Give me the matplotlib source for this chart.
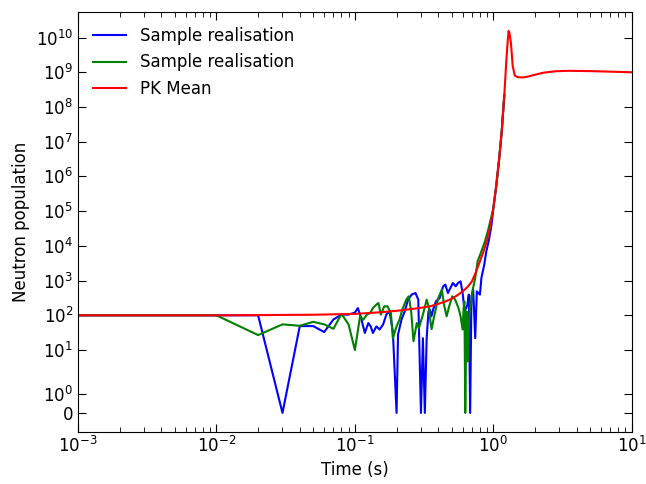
import matplotlib
matplotlib.use("Agg")
import matplotlib.pyplot as plt
from matplotlib.ticker import NullLocator

# PK mean (deterministic point kinetics solution)
t_pk = [0.001, 0.01, 0.05, 0.1, 0.15, 0.2, 0.25, 0.3, 0.35, 0.4, 0.45, 0.5,
        0.55, 0.6, 0.65, 0.7, 0.75, 0.8, 0.85, 0.9, 0.95, 1.0, 1.05, 1.1,
        1.15, 1.2, 1.24, 1.27, 1.29, 1.31, 1.34, 1.38, 1.43, 1.5, 1.65, 1.8,
        2.0, 2.3, 2.8, 3.5, 5.0, 7.0, 10.0]
n_pk = [100, 100, 104, 110, 122, 135, 150, 165, 182, 215, 250, 300,
        380, 490, 650, 950, 1800, 3600, 7000, 1.4e4, 3.5e4, 1.2e5, 5.5e5, 3e6,
        2e7, 2.2e8, 2e9, 8e9, 1.55e10, 1.3e10, 7e9, 1.5e9, 8e8, 7.2e8, 7.1e8, 7.6e8,
        8.5e8, 9.7e8, 1.07e9, 1.1e9, 1.08e9, 1.04e9, 1.0e9]

# sample realisation 1 (blue)
t_s1 = [0.001, 0.01, 0.02, 0.03, 0.04, 0.05, 0.06, 0.07, 0.08, 0.09, 0.1,
        0.105, 0.11, 0.118, 0.125, 0.13, 0.135, 0.143, 0.151, 0.16, 0.169,
        0.178, 0.188, 0.2, 0.205, 0.217, 0.229, 0.242, 0.258, 0.274, 0.287,
        0.3, 0.31, 0.32, 0.33, 0.34, 0.348, 0.357, 0.37, 0.385, 0.41, 0.434,
        0.45, 0.47, 0.49, 0.51, 0.535, 0.555, 0.58, 0.6, 0.62, 0.65, 0.665,
        0.68, 0.695, 0.715, 0.74, 0.76, 0.8, 0.82, 0.86, 0.89, 0.93, 0.97,
        1.0, 1.05, 1.1, 1.15, 1.2]
n_s1 = [100, 100, 100, 0, 49, 49, 33, 76, 105, 105, 120,
        162, 94, 31, 60, 48, 31, 48, 39, 55, 107,
        130, 35, 0, 28, 75, 130, 283, 400, 440, 283,
        0, 22, 0, 22, 130, 146, 94, 162, 253, 315, 685,
        767, 440, 620, 850, 685, 850, 950, 440, 130, 203, 395,
        0, 353, 550, 22, 490, 395, 1190, 2900, 7000, 1.5e4, 4e4,
        1.2e5, 5.5e5, 3e6, 2e7, 2.2e8]

# sample realisation 2 (green)
t_s2 = [0.001, 0.01, 0.02, 0.03, 0.04, 0.05, 0.06, 0.07, 0.08, 0.09, 0.1,
        0.109, 0.115, 0.122, 0.129, 0.135, 0.143, 0.148, 0.154, 0.163, 0.172,
        0.182, 0.188, 0.2, 0.21, 0.22, 0.235, 0.245, 0.255, 0.265, 0.28,
        0.29, 0.31, 0.33, 0.343, 0.35, 0.358, 0.375, 0.4, 0.425, 0.44, 0.46,
        0.48, 0.505, 0.53, 0.56, 0.58, 0.6, 0.61, 0.618, 0.627, 0.64, 0.655,
        0.67, 0.71, 0.74, 0.77, 0.82, 0.87, 0.92, 1.0, 1.05, 1.1, 1.15, 1.2]
n_s2 = [100, 100, 27, 55, 50, 65, 55, 41, 110, 55, 10,
        94, 75, 105, 116, 162, 203, 226, 105, 182, 182,
        116, 22, 48, 75, 146, 283, 353, 130, 18, 60,
        43, 105, 283, 162, 75, 40, 100, 315, 550, 203, 94,
        182, 353, 283, 162, 94, 39, 162, 253, 0, 130, 4.7,
        105, 550, 1190, 3600, 7000, 1.35e4, 3e4, 1.2e5, 5.5e5, 3e6, 2e7, 2.2e8]

y_ticks = [0, 1] + [10 ** k for k in range(1, 11)]
y_labels = ['0'] + [r'$10^{%d}$' % k for k in range(0, 11)]

fig = plt.figure(figsize=(6.46, 4.84), dpi=100)
ax = fig.add_subplot(111)
fig.subplots_adjust(left=0.1207, right=0.978, bottom=0.107, top=0.975)

ax.plot(t_s1, n_s1, color='b', lw=1.5, label='Sample realisation')
ax.plot(t_s2, n_s2, color='g', lw=1.5, label='Sample realisation')
ax.plot(t_pk, n_pk, color='r', lw=1.5, label='PK Mean')

ax.set_xscale('log')
ax.set_yscale('symlog', linthresh=2, linscale=1)
ax.set_xlim(1e-3, 10)
ax.set_ylim(-1, 5.4e10)
ax.set_yticks(y_ticks, y_labels)
ax.yaxis.set_minor_locator(NullLocator())

ax.tick_params(which='both', direction='in', top=True, right=True, labelsize=12)
ax.tick_params(which='major', length=6)
ax.tick_params(which='minor', length=3.5)
ax.tick_params(axis='x', pad=3)

ax.set_xlabel('Time (s)', fontsize=12, labelpad=3)
ax.set_ylabel('Neutron population', fontsize=12)
ax.legend(loc='upper left', frameon=False, fontsize=12)

fig.savefig('out.png', dpi=100)
